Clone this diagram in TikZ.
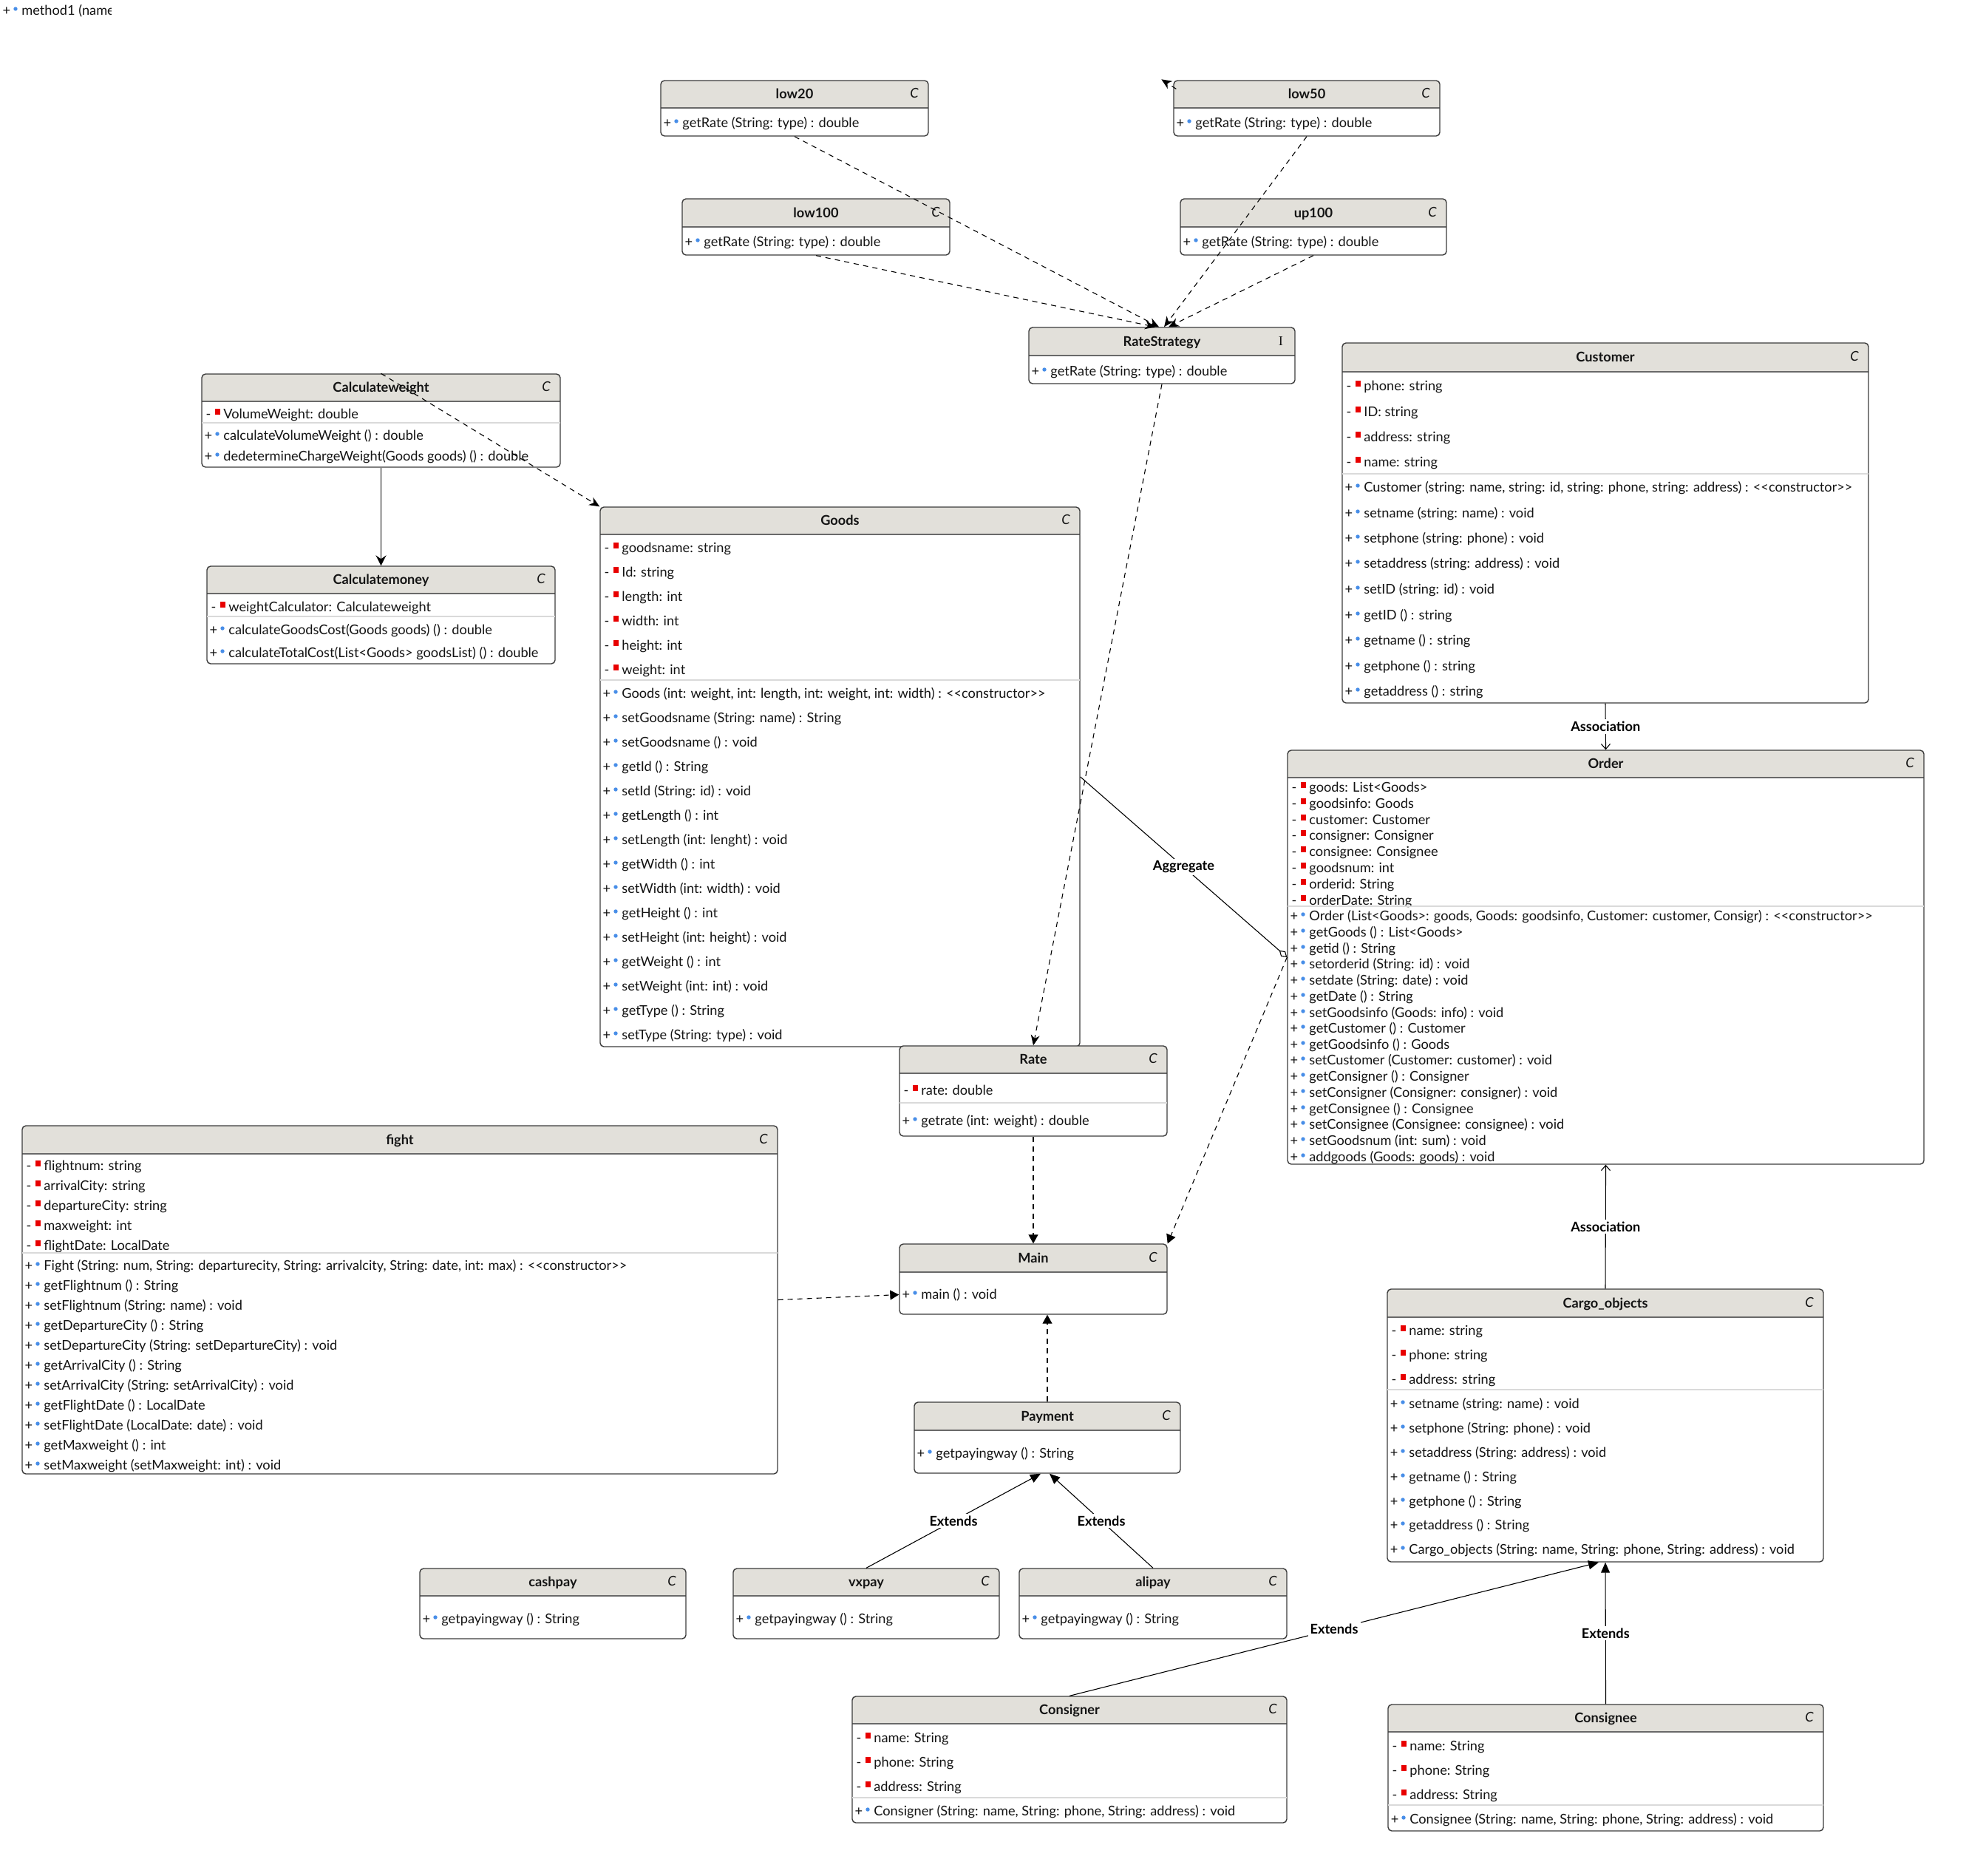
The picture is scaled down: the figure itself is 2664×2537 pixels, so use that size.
\documentclass[tikz,border=0pt]{standalone}
\usepackage{fontspec}
\setmainfont{Lato}
\newfontfamily\serifI{Liberation Serif}
\usetikzlibrary{arrows.meta,fit,calc}
\definecolor{hdrfill}{RGB}{226,224,218}
\definecolor{bordc}{RGB}{60,60,60}
\definecolor{hdrline}{RGB}{105,105,105}
\definecolor{sepline}{RGB}{218,218,218}
\definecolor{redsq}{RGB}{232,0,0}
\definecolor{bluedot}{RGB}{72,142,232}
\definecolor{txtc}{RGB}{20,20,20}
\newcounter{rc}
\newcommand\rowsz{\fontsize{9.1}{10}\selectfont}
\tikzset{
  sgn/.style={font=\rowsz, text=txtc, inner sep=0pt, anchor=mid},
  rowt/.style={font=\rowsz, text=txtc, inner sep=0pt, anchor=mid west},
  ttl/.style={font=\bfseries\rowsz, text=txtc, inner sep=0pt, anchor=mid},
  letr/.style={font=\itshape\rowsz, text=txtc, inner sep=0pt, anchor=mid},
  boxn/.style={draw=bordc, line width=0.7pt, rounded corners=2.5pt, inner sep=0pt},
  sepl/.style={draw=sepline, line width=0.6pt},
  hdrl/.style={draw=hdrline, line width=0.7pt},
  conn/.style={line width=0.55pt, draw=black},
  dsh/.style={conn, dash pattern=on 3.5pt off 3pt},
  dep/.style={dsh, -{Stealth[length=7pt,width=6pt,inset=2.2pt]}},
  deptri/.style={dsh, -{Triangle[length=6pt,width=6.5pt]}},
  assoc/.style={conn, -{Straight Barb[length=3.5pt,width=6pt]}},
  solidarr/.style={conn, -{Stealth[length=7pt,width=7pt,inset=2.5pt]}},
  ext/.style={conn, -{Triangle[length=7pt,width=6pt]}},
  agg/.style={conn, -{Diamond[open,fill=white,length=7pt,width=4.5pt]}},
  lbl/.style={font=\bfseries\rowsz, text=black, fill=white, inner sep=1.5pt},
}
% #1 name, #2 x1, #3 y1, #4 x2, #5 y2, #6 y header, #7 title, #8 letter
\newcommand\classbox[8]{%
  \fill[white, rounded corners=2.5pt] (#2,#3) rectangle (#4,#5);
  \begin{scope}
    \clip[rounded corners=2.5pt] (#2,#3) rectangle (#4,#5);
    \fill[hdrfill] (#2,#3) rectangle (#4,#6);
  \end{scope}
  \draw[hdrl] (#2,#6) -- (#4,#6);
  \node[boxn, fit={(#2,#3) (#4,#5)}] (#1) {};
  \node[ttl] (#1t) at ({(#2+#4)/2},{(#3+#6)/2+1}) {#7};
  \node[letr] (#1l) at (#4-19,{(#3+#6)/2}) {#8};
}
\newcommand\at[3]{\stepcounter{rc}%
  \node[sgn] (s\arabic{rc}) at (#1+9,#2) {-};
  \fill[redsq] (#1+18,#2-8) rectangle (#1+25,#2);
  \node[rowt] (t\arabic{rc}) at (#1+29,#2) {#3};}
\newcommand\mt[3]{\stepcounter{rc}%
  \node[sgn] (s\arabic{rc}) at (#1+9,#2) {+};
  \fill[bluedot] (#1+21,#2-3) circle[radius=2.7];
  \node[rowt] (t\arabic{rc}) at (#1+29,#2) {#3};}
\newcommand\sepr[3]{\draw[sepl] (#1,#3) -- (#2,#3);}
\newcommand\ctor{<{}<constructor>{}>}

\begin{document}
\begin{tikzpicture}[x=0.5pt,y=-0.5pt]
\fill[white] (0,0) rectangle (2664,2537);
\useasboundingbox (0,0) rectangle (2664,2537);

% clipped stray text
\begin{scope}
  \clip (0,0) rectangle (150,40);
  \mt{0}{15}{method1 (name}
\end{scope}

% rate classes
\classbox{low20}{894}{109}{1256}{184}{146}{low20}{C}
\mt{894}{167}{getRate (String: type) : double}
\classbox{low50}{1588}{109}{1948}{184}{146}{low50}{C}
\mt{1588}{167}{getRate (String: type) : double}
\classbox{low100}{923}{269}{1285}{345}{307}{low100}{C}
\mt{923}{328}{getRate (String: type) : double}
\classbox{up100}{1597}{269}{1957}{345}{307}{up100}{C}
\mt{1597}{328}{getRate (String: type) : double}
\classbox{rs}{1392}{443}{1752}{519}{481}{RateStrategy}{{\upshape\serifI I}}
\mt{1392}{503}{getRate (String: type) : double}

% Customer
\classbox{cust}{1816}{464}{2528}{951}{503}{Customer}{C}
\at{1816}{523}{phone: string}
\at{1816}{558}{ID: string}
\at{1816}{592}{address: string}
\at{1816}{626}{name: string}
\sepr{1816}{2528}{641}
\mt{1816}{660}{Customer (string: name, string: id, string: phone, string: address) : \ctor}
\mt{1816}{695}{setname (string: name) : void}
\mt{1816}{729}{setphone (string: phone) : void}
\mt{1816}{763}{setaddress (string: address) : void}
\mt{1816}{798}{setID (string: id) : void}
\mt{1816}{833}{getID () : string}
\mt{1816}{867}{getname () : string}
\mt{1816}{902}{getphone () : string}
\mt{1816}{936}{getaddress () : string}

% Calculateweight / Calculatemoney
\classbox{calcw}{273}{506}{758}{632}{543}{Calculateweight}{C}
\at{273}{561}{VolumeWeight: double}
\sepr{273}{758}{572}
\mt{273}{590}{calculateVolumeWeight () : double}
\mt{273}{618}{dedetermineChargeWeight(Goods goods) () : double}
\classbox{calcm}{280}{766}{751}{898}{803}{Calculatemoney}{C}
\at{280}{822}{weightCalculator: Calculateweight}
\sepr{280}{751}{834}
\mt{280}{853}{calculateGoodsCost(Goods goods) () : double}
\mt{280}{884}{calculateTotalCost(List<Goods> goodsList) () : double}

% Goods
\classbox{goods}{812}{686}{1461}{1416}{723}{Goods}{C}
\at{812}{742}{goodsname: string}
\at{812}{775}{Id: string}
\at{812}{808}{length: int}
\at{812}{841}{width: int}
\at{812}{874}{height: int}
\at{812}{907}{weight: int}
\sepr{812}{1461}{920}
\mt{812}{939}{Goods (int: weight, int: length, int: weight, int: width) : \ctor}
\mt{812}{972}{setGoodsname (String: name) : String}
\mt{812}{1005}{setGoodsname () : void}
\mt{812}{1038}{getId () : String}
\mt{812}{1071}{setId (String: id) : void}
\mt{812}{1104}{getLength () : int}
\mt{812}{1137}{setLength (int: lenght) : void}
\mt{812}{1170}{getWidth () : int}
\mt{812}{1203}{setWidth (int: width) : void}
\mt{812}{1236}{getHeight () : int}
\mt{812}{1269}{setHeight (int: height) : void}
\mt{812}{1302}{getWeight () : int}
\mt{812}{1335}{setWeight (int: int) : void}
\mt{812}{1368}{getType () : String}
\mt{812}{1401}{setType (String: type) : void}

% Rate / Main
\classbox{rate}{1217}{1415}{1579}{1537}{1452}{Rate}{C}
\at{1217}{1476}{rate: double}
\sepr{1217}{1579}{1492}
\mt{1217}{1517}{getrate (int: weight) : double}
\classbox{main}{1217}{1683}{1579}{1778}{1721}{Main}{C}
\mt{1217}{1752}{main () : void}

% fight
\classbox{fight}{30}{1523}{1052}{1994}{1561}{fight}{C}
\at{30}{1578}{flightnum: string}
\at{30}{1605}{arrivalCity: string}
\at{30}{1632}{departureCity: string}
\at{30}{1659}{maxweight: int}
\at{30}{1686}{flightDate: LocalDate}
\sepr{30}{1052}{1695}
\mt{30}{1713}{Fight (String: num, String: departurecity, String: arrivalcity, String: date, int: max) : \ctor}
\mt{30}{1740}{getFlightnum () : String}
\mt{30}{1767}{setFlightnum (String: name) : void}
\mt{30}{1794}{getDepartureCity () : String}
\mt{30}{1821}{setDepartureCity (String: setDepartureCity) : void}
\mt{30}{1848}{getArrivalCity () : String}
\mt{30}{1875}{setArrivalCity (String: setArrivalCity) : void}
\mt{30}{1902}{getFlightDate () : LocalDate}
\mt{30}{1929}{setFlightDate (LocalDate: date) : void}
\mt{30}{1956}{getMaxweight () : int}
\mt{30}{1983}{setMaxweight (setMaxweight: int) : void}

% Order
\classbox{order}{1742}{1015}{2603}{1575}{1052}{Order}{C}
\at{1742}{1066}{goods: List<Goods>}
\at{1742}{1088}{goodsinfo: Goods}
\at{1742}{1110}{customer: Customer}
\at{1742}{1131}{consigner: Consigner}
\at{1742}{1153}{consignee: Consignee}
\at{1742}{1175}{goodsnum: int}
\at{1742}{1197}{orderid: String}
\at{1742}{1219}{orderDate: String}
\sepr{1742}{2603}{1226}
\mt{1742}{1240}{Order (List<Goods>: goods, Goods: goodsinfo, Customer: customer, Consigr) : \ctor}
\mt{1742}{1262}{getGoods () : List<Goods>}
\mt{1742}{1284}{getid () : String}
\mt{1742}{1305}{setorderid (String: id) : void}
\mt{1742}{1327}{setdate (String: date) : void}
\mt{1742}{1349}{getDate () : String}
\mt{1742}{1371}{setGoodsinfo (Goods: info) : void}
\mt{1742}{1392}{getCustomer () : Customer}
\mt{1742}{1414}{getGoodsinfo () : Goods}
\mt{1742}{1435}{setCustomer (Customer: customer) : void}
\mt{1742}{1457}{getConsigner () : Consigner}
\mt{1742}{1479}{setConsigner (Consigner: consigner) : void}
\mt{1742}{1501}{getConsignee () : Consignee}
\mt{1742}{1522}{setConsignee (Consignee: consignee) : void}
\mt{1742}{1544}{setGoodsnum (int: sum) : void}
\mt{1742}{1566}{addgoods (Goods: goods) : void}

% Payment family
\classbox{pay}{1237}{1897}{1597}{1993}{1935}{Payment}{C}
\mt{1237}{1967}{getpayingway () : String}
\classbox{cash}{568}{2122}{928}{2217}{2159}{cashpay}{C}
\mt{568}{2191}{getpayingway () : String}
\classbox{vx}{992}{2122}{1352}{2217}{2159}{vxpay}{C}
\mt{992}{2191}{getpayingway () : String}
\classbox{ali}{1379}{2122}{1741}{2217}{2159}{alipay}{C}
\mt{1379}{2191}{getpayingway () : String}

% Cargo family
\classbox{cargo}{1877}{1744}{2467}{2113}{1782}{Cargo\_objects}{C}
\at{1877}{1801}{name: string}
\at{1877}{1834}{phone: string}
\at{1877}{1867}{address: string}
\sepr{1877}{2467}{1880}
\mt{1877}{1900}{setname (string: name) : void}
\mt{1877}{1933}{setphone (String: phone) : void}
\mt{1877}{1966}{setaddress (String: address) : void}
\mt{1877}{1999}{getname () : String}
\mt{1877}{2032}{getphone () : String}
\mt{1877}{2064}{getaddress () : String}
\mt{1877}{2097}{Cargo\_objects (String: name, String: phone, String: address) : void}
\classbox{cnr}{1153}{2295}{1741}{2466}{2332}{Consigner}{C}
\at{1153}{2352}{name: String}
\at{1153}{2385}{phone: String}
\at{1153}{2418}{address: String}
\sepr{1153}{1741}{2432}
\mt{1153}{2451}{Consigner (String: name, String: phone, String: address) : void}
\classbox{cne}{1878}{2306}{2467}{2477}{2343}{Consignee}{C}
\at{1878}{2363}{name: String}
\at{1878}{2396}{phone: String}
\at{1878}{2429}{address: String}
\sepr{1878}{2467}{2442}
\mt{1878}{2462}{Consignee (String: name, String: phone, String: address) : void}

% ---------------- connectors
\draw[dep] (low20.south) -- ($(rs.north)+(-4,0)$);
\draw[dep] (low100.south) -- ($(rs.north)+(-9,0)$);
\draw[dep] (low50.south) -- ($(rs.north)+(3,0)$);
\draw[dep] (up100.south) -- ($(rs.north)+(9,0)$);
\coordinate (tinytip) at ($(low50.north west)+(-16,-1)$);
\draw[dep] ($(low50.north west)+(4,12)$) -- (tinytip);
\draw[dep] (rs.south) -- (rate.north);
\draw[dep] (calcw.north) -- (goods.north west);
\draw[solidarr] (calcw.south) -- (calcm.north);
\draw[assoc] (cust.south) -- node[lbl] {Association} (order.north);
\draw[assoc] (cargo.north) -- node[lbl] {Association} (order.south);
\draw[agg] (goods.east) -- node[lbl] {Aggregate} (order.west);
\draw[deptri] (order.west) -- (main.north east);
\draw[deptri] (rate.south) -- (main.north);
\draw[deptri] (fight.east) -- ($(main.west)+(0,21)$);
\draw[deptri] (pay.north) -- (pay.north |- main.south);
\draw[ext] (vx.north) -- node[lbl] {Extends} ($(pay.south)+(-9,0)$);
\draw[ext] (ali.north) -- node[lbl] {Extends} ($(pay.south)+(3,0)$);
\draw[ext] (cnr.north) -- node[lbl] {Extends} ($(cargo.south)+(-9,0)$);
\draw[ext] (cne.north) -- node[lbl] {Extends} (cargo.south);
\end{tikzpicture}
\end{document}
